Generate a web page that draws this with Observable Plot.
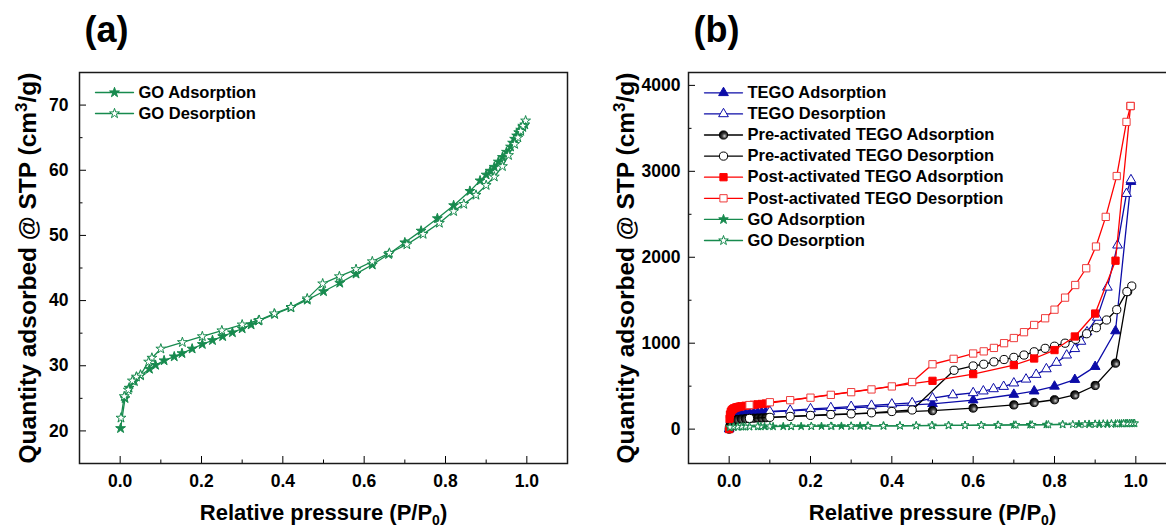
<!DOCTYPE html>
<html><head><meta charset="utf-8">
<script src="https://cdn.jsdelivr.net/npm/d3@7"></script>
<script src="https://cdn.jsdelivr.net/npm/@observablehq/plot@0.6"></script>
<style>
html,body{margin:0;padding:0;background:#fff;overflow:hidden;}
#wrap{position:relative;width:1166px;height:529px;overflow:hidden;background:#fff;}
#pa,#pb{position:absolute;top:0;}
#pa{left:0;width:583px;} #pb{left:583px;width:600px;}
#wrap svg{max-width:none !important;}
</style></head><body><div id="wrap"><div id="pa"></div><div id="pb"></div></div>
<script>
// ---------- data ----------
const goAds = [[0.001,20.4],[0.012,25.0],[0.022,26.6],[0.035,27.6],[0.05,28.5],[0.072,29.5],[0.087,30.1],[0.108,30.8],[0.133,31.4],[0.152,31.9],[0.177,32.6],[0.202,33.3],[0.227,33.9],[0.252,34.5],[0.276,35.1],[0.30,35.7],[0.322,36.3],[0.34,36.9],[0.38,37.9],[0.42,38.9],[0.46,40.1],[0.50,41.4],[0.54,42.7],[0.58,44.1],[0.62,45.5],[0.66,47.1],[0.70,48.9],[0.74,50.7],[0.78,52.6],[0.82,54.6],[0.86,56.8],[0.885,58.4],[0.90,59.3],[0.91,59.9],[0.92,60.5],[0.93,61.3],[0.94,62.0],[0.95,62.8],[0.96,63.6],[0.965,64.2],[0.97,64.8],[0.975,65.3],[0.98,65.8],[0.985,66.2],[0.99,66.6],[0.995,67.0]];
const goDes = [[0.997,67.6],[0.99,66.8],[0.985,66.0],[0.978,65.0],[0.97,64.0],[0.955,62.3],[0.94,60.6],[0.92,59.0],[0.90,57.7],[0.875,56.2],[0.845,54.8],[0.82,53.7],[0.785,51.9],[0.745,50.2],[0.705,48.6],[0.662,47.3],[0.62,46.0],[0.58,44.8],[0.539,43.7],[0.498,42.6],[0.46,40.3],[0.42,39.0],[0.379,38.0],[0.342,37.0],[0.30,36.3],[0.25,35.4],[0.202,34.5],[0.153,33.6],[0.10,32.6],[0.078,31.2],[0.07,30.6],[0.05,28.6],[0.04,28.3],[0.03,27.7],[0.02,26.3],[0.01,25.3],[0.002,22.0]];

const tegoAds = [[0.0,0],[0.002,60],[0.004,110],[0.007,140],[0.01,155],[0.015,165],[0.02,172],[0.03,178],[0.04,183],[0.05,187],[0.06,190],[0.07,193],[0.08,196],[0.09,199],[0.5,295],[0.6,338],[0.7,403],[0.75,442],[0.8,498],[0.85,576],[0.9,727],[0.95,1142],[0.988,2880]];
const tegoDes = [[0.988,2900],[0.977,2740],[0.955,2140],[0.93,1650],[0.905,1300],[0.88,1130],[0.865,1020],[0.85,935],[0.83,860],[0.805,775],[0.78,700],[0.755,635],[0.73,580],[0.70,535],[0.675,495],[0.65,468],[0.625,442],[0.60,422],[0.55,397],[0.50,362],[0.45,305],[0.40,290],[0.35,275],[0.30,262],[0.25,248],[0.20,235],[0.15,218],[0.10,205]];
const preAds = [[0.0,0],[0.002,40],[0.004,70],[0.007,90],[0.01,100],[0.015,108],[0.02,113],[0.03,118],[0.04,122],[0.05,125],[0.06,127],[0.07,129],[0.08,131],[0.09,133],[0.5,215],[0.6,245],[0.7,282],[0.75,310],[0.8,342],[0.85,398],[0.9,508],[0.95,768],[0.98,1600]];
const preDes = [[0.99,1665],[0.978,1600],[0.953,1390],[0.928,1270],[0.903,1180],[0.879,1110],[0.852,1045],[0.826,1000],[0.80,965],[0.777,940],[0.75,900],[0.725,862],[0.70,835],[0.676,810],[0.651,783],[0.626,755],[0.60,735],[0.553,685],[0.45,223],[0.40,205],[0.35,190],[0.30,178],[0.25,170],[0.20,160],[0.15,148],[0.10,137],[0.05,125]];
const postAds = [[0.0,0],[0.001,120],[0.002,170],[0.004,200],[0.006,218],[0.009,232],[0.012,242],[0.016,250],[0.02,256],[0.025,262],[0.03,266],[0.04,272],[0.05,278],[0.06,283],[0.07,288],[0.08,293],[0.09,298],[0.5,562],[0.6,640],[0.7,745],[0.75,822],[0.8,920],[0.85,1078],[0.9,1345],[0.95,1960],[0.987,3760]];
const postDes = [[0.987,3760],[0.977,3575],[0.953,2945],[0.926,2470],[0.902,2125],[0.878,1872],[0.851,1677],[0.826,1530],[0.80,1390],[0.777,1290],[0.75,1212],[0.725,1128],[0.70,1060],[0.676,1000],[0.651,945],[0.626,905],[0.60,880],[0.552,818],[0.50,755],[0.45,548],[0.40,497],[0.35,462],[0.30,430],[0.25,399],[0.20,366],[0.15,337],[0.10,313],[0.05,280]];

const xMajor = [0, 0.2, 0.4, 0.6, 0.8, 1.0];
const xMinor = [0.1, 0.3, 0.5, 0.7, 0.9];
const aYMajor = [20, 30, 40, 50, 60, 70];
const aYMinor = [25, 35, 45, 55, 65];
const bYMajor = [0, 1000, 2000, 3000, 4000];
const bYMinor = [500, 1500, 2500, 3500];

const xTitle = "Relative pressure (P/P0)";
const yTitle = "Quantity adsorbed @ STP (cm3/g)";

// ---------- styles ----------
const GREEN = "#178a4e", BLUE = "#0c0ca8", RED = "#ff0000", RED2 = "#ee3c3c", BLACK = "#000";
const FONT = "'Liberation Sans', Arial, Helvetica, sans-serif";
const rows = a => a.map(([x, y]) => ({x, y}));

function series(data, o) {
  return [
    Plot.line(rows(data), {x: "x", y: "y", stroke: o.line, strokeWidth: 1.3}),
    Plot.dot(rows(data), {x: "x", y: "y", symbol: o.symbol, r: o.r, fill: o.fill, stroke: o.stroke, strokeWidth: 1})
  ];
}

const hLine = {draw(ctx, l) { ctx.moveTo(0, 0); ctx.lineTo(l, 0); }};
function legend(items, dy0, step) {
  const m = [];
  items.forEach((it, i) => {
    const dy = dy0 + step * i;
    m.push(Plot.vector([0], {frameAnchor: "top-left", dx: 16, dy, length: 38, anchor: "start", shape: hLine, stroke: it.line, strokeWidth: 1.3}));
    m.push(Plot.dot([0], {x: null, y: null, frameAnchor: "top-left", dx: 35, dy, symbol: it.symbol, r: it.r, fill: it.fill, stroke: it.stroke, strokeWidth: 1}));
    m.push(Plot.text([it.label], {text: d => d, frameAnchor: "top-left", dx: 59, dy, textAnchor: "start", lineAnchor: "middle", fontSize: 16.5, fontWeight: "bold"}));
  });
  return m;
}

function axes(yMajor, yMinor, yFmt, yPad) {
  return [
    Plot.axisX({ticks: xMajor, anchor: "bottom", tickSize: -7, tickPadding: 18.5, tickFormat: d3.format(".1f"), fontSize: 17.5, fontWeight: "bold", label: null}),
    Plot.axisX({ticks: xMinor, anchor: "bottom", tickSize: -3.5, tickFormat: () => "", label: null}),
    Plot.axisY({ticks: yMajor, anchor: "left", tickSize: -7, tickPadding: yPad, tickFormat: yFmt, fontSize: 17.5, fontWeight: "bold", label: null}),
    Plot.axisY({ticks: yMinor, anchor: "left", tickSize: -3.5, tickFormat: () => "", label: null}),
    Plot.frame({stroke: "#1a1a1a", strokeWidth: 1.5})
  ];
}

function titles(tag, yDx) {
  return [
    Plot.text([tag], {text: d => d, frameAnchor: "top-left", dx: 5, dy: -42, textAnchor: "start", lineAnchor: "middle", fontSize: 36, fontWeight: "bold"}),
    Plot.text([yTitle], {text: d => d, frameAnchor: "left", dx: yDx, rotate: -90, textAnchor: "middle", lineAnchor: "middle", fontSize: 24.5, fontWeight: "bold"}),
    Plot.text([xTitle], {text: d => d, frameAnchor: "bottom", dy: 49, textAnchor: "middle", lineAnchor: "middle", fontSize: 22, fontWeight: "bold"})
  ];
}

// rich text: sub/superscripts inside the axis titles
function richTitles(svg) {
  d3.select(svg).selectAll("text").each(function() {
    const t = this.textContent;
    if (t === xTitle) {
      d3.select(this).text(null).call(s => {
        s.append("tspan").text("Relative pressure (P/P");
        s.append("tspan").attr("font-size", 14).attr("dy", 5).text("0");
        s.append("tspan").attr("dy", -5).text(")");
      });
    } else if (t === yTitle) {
      d3.select(this).text(null).call(s => {
        s.append("tspan").text("Quantity adsorbed @ STP (cm");
        s.append("tspan").attr("font-size", 17).attr("dy", -9).text("3");
        s.append("tspan").attr("dy", 9).text("/g)");
      });
    }
  });
  return svg;
}

const GO_A = {line: GREEN, symbol: "star", fill: GREEN, stroke: GREEN};
const GO_D = {line: GREEN, symbol: "star", fill: "#fff", stroke: GREEN};
const STYLE = {fontFamily: FONT, color: "#000", background: "transparent", overflow: "visible", maxWidth: "none"};

// ---------- panel (a) ----------
const pa = Plot.plot({
  width: 583, height: 529,
  marginLeft: 79, marginRight: 16, marginTop: 72, marginBottom: 66,
  style: STYLE,
  x: {domain: [-0.1, 1.1]},
  y: {domain: [15, 75]},
  marks: [
    ...axes(aYMajor, aYMinor, d3.format("d"), 18),
    ...series(goAds, {...GO_A, r: 3.1}),
    ...series(goDes, {...GO_D, r: 3.1}),
    ...legend([
      {...GO_A, r: 3.1, label: "GO Adsorption"},
      {...GO_D, r: 3.1, label: "GO Desorption"}
    ], 20, 21),
    ...titles("(a)", -51)
  ]
});
document.getElementById("pa").appendChild(richTitles(pa));

// ---------- panel (b) ----------
const defs = () => d3.create("svg:defs").html(
  `<radialGradient id="sph" cx="0.62" cy="0.62" r="0.62"><stop offset="0" stop-color="#d8d8d8"/><stop offset="0.45" stop-color="#444"/><stop offset="1" stop-color="#000"/></radialGradient>`
).node();

const TA = {line: BLUE, symbol: "triangle", fill: BLUE, stroke: BLUE, r: 3.6};
const TD = {line: BLUE, symbol: "triangle", fill: "#fff", stroke: BLUE, r: 3.6};
const PA = {line: BLACK, symbol: "circle", fill: "url(#sph)", stroke: BLACK, r: 4.1};
const PD = {line: BLACK, symbol: "circle", fill: "#fff", stroke: BLACK, r: 4.1};
const QA = {line: RED, symbol: "square", fill: RED, stroke: RED, r: 4.1};
const QD = {line: RED, symbol: "square", fill: "#fff", stroke: RED2, r: 4.1};
const GA = {...GO_A, r: 2.5};
const GD = {...GO_D, r: 2.5};

const pb = Plot.plot({
  width: 600, height: 529,
  marginLeft: 105, marginRight: 7, marginTop: 72, marginBottom: 66,
  style: STYLE,
  x: {domain: [-0.1, 1.1]},
  y: {domain: [-400, 4150]},
  marks: [
    defs,
    ...axes(bYMajor, bYMinor, d3.format("d"), 15),
    ...series(tegoAds, TA),
    ...series(tegoDes, TD),
    ...series(preAds, PA),
    ...series(preDes, PD),
    ...series(postAds, QA),
    ...series(postDes, QD),
    ...series(goAds, GA),
    ...series(goDes, GD),
    ...legend([
      {...TA, label: "TEGO Adsorption"},
      {...TD, label: "TEGO Desorption"},
      {...PA, label: "Pre-activated TEGO Adsorption"},
      {...PD, label: "Pre-activated TEGO Desorption"},
      {...QA, label: "Post-activated TEGO Adsorption"},
      {...QD, label: "Post-activated TEGO Desorption"},
      {...GA, r: 3, label: "GO Adsorption"},
      {...GD, r: 3, label: "GO Desorption"}
    ], 20.3, 21.1),
    ...titles("(b)", -62)
  ]
});
document.getElementById("pb").appendChild(richTitles(pb));
</script>
</body></html>
